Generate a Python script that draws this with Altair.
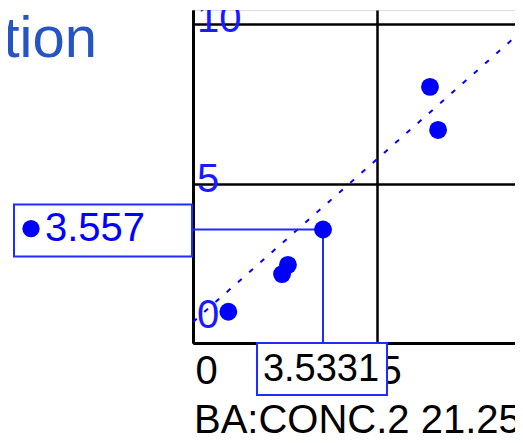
import altair as alt
import pandas as pd

# ---- data ----
pt_x = [0.96, 2.42, 2.58, 3.5331, 6.44, 6.66]
pt_y = [0.98, 2.16, 2.45, 3.557, 8.03, 6.68]
reg_x = [0.0, 8.75]
reg_y = [0.66, 9.59]
sel_x = [3.5331]
sel_y = [3.557]
sel_x_label = ["3.5331"]
sel_y_label = ["3.557"]
x_ticks = [0, 5]
y_ticks = [0, 5, 10]
title_text = ["Calibration"]
x_title = ["BA:CONC.2 21.2535"]

X_DOMAIN = [0, 8.75]
Y_DOMAIN = [0, 10.44]
W, H = 322, 333
FONT = "Liberation Sans, Arial"
FS = 40
BLUE = "#0000ff"
BOXBLUE = "#1f2bff"

pts = pd.DataFrame({"x": pt_x, "y": pt_y})
reg = pd.DataFrame({"x": reg_x, "y": reg_y})
sel = pd.DataFrame({"x": sel_x, "y": sel_y, "lx": sel_x_label, "ly": sel_y_label,
                    "x0": [0.0], "y0": [0.0]})
yt_hi = pd.DataFrame({"v": [v for v in y_ticks if v > 0], "t": [str(v) for v in y_ticks if v > 0]})
yt_lo = pd.DataFrame({"v": [v for v in y_ticks if v == 0], "t": [str(v) for v in y_ticks if v == 0]})
ttl = pd.DataFrame({"t": title_text})
xtl = pd.DataFrame({"t": x_title})

xs = alt.Scale(domain=X_DOMAIN, nice=False, zero=False)
ys = alt.Scale(domain=Y_DOMAIN, nice=False, zero=False)

x_axis = alt.Axis(values=x_ticks, grid=True, gridColor="black", gridWidth=2.5, gridOpacity=1,
                  domain=True, domainColor="black", domainWidth=3, ticks=False,
                  labelAlign="left", labelBaseline="top", labelPadding=8, labelFlush=False,
                  labelOverlap=False, labelFont=FONT, labelFontSize=FS, labelColor="black",
                  labelBound=False, labelOffset=2, title=None)
y_axis = alt.Axis(values=y_ticks, grid=True, gridColor="black", gridWidth=2.5, gridOpacity=1,
                  domain=True, domainColor="black", domainWidth=3, ticks=False, labels=False,
                  title=None)

points = alt.Chart(pts).mark_circle(size=320, color=BLUE, opacity=1).encode(
    x=alt.X("x:Q", scale=xs, axis=x_axis),
    y=alt.Y("y:Q", scale=ys, axis=y_axis),
)

regline = alt.Chart(reg).mark_line(color=BLUE, strokeWidth=2, strokeDash=[5, 10], clip=True).encode(
    x=alt.X("x:Q", scale=xs), y=alt.Y("y:Q", scale=ys)
)

hrule = alt.Chart(sel).mark_rule(color=BOXBLUE, strokeWidth=2).encode(
    x=alt.X("x0:Q", scale=xs), x2="x", y=alt.Y("y:Q", scale=ys)
)
vrule = alt.Chart(sel).mark_rule(color=BOXBLUE, strokeWidth=2).encode(
    x=alt.X("x:Q", scale=xs), y=alt.Y("y:Q", scale=ys), y2="y0"
)

left_box = alt.Chart(sel).mark_rect(fill="white", stroke=BOXBLUE, strokeWidth=2,
                                    yOffset=-25, y2Offset=27).encode(
    x=alt.value(-179), x2=alt.value(-1), y=alt.Y("y:Q", scale=ys), y2="y"
)
left_dot = alt.Chart(sel).mark_circle(size=300, color=BLUE, opacity=1, yOffset=-1).encode(
    x=alt.value(-162), y=alt.Y("y:Q", scale=ys)
)
left_txt = alt.Chart(sel).mark_text(align="left", baseline="middle", dy=-1, font=FONT,
                                    fontSize=FS, color=BLUE).encode(
    x=alt.value(-148), y=alt.Y("y:Q", scale=ys), text="ly:N"
)

bot_box = alt.Chart(sel).mark_rect(fill="white", stroke=BOXBLUE, strokeWidth=2,
                                   xOffset=-66, x2Offset=64).encode(
    x=alt.X("x:Q", scale=xs), x2="x", y=alt.value(333), y2=alt.value(385)
)
bot_txt = alt.Chart(sel).mark_text(align="center", baseline="middle", dx=-2, font=FONT,
                                   fontSize=38, color="black").encode(
    x=alt.X("x:Q", scale=xs), y=alt.value(360), text="lx:N"
)

ylab_hi = alt.Chart(yt_hi).mark_text(align="left", baseline="middle", dx=4, dy=-4, font=FONT,
                                     fontSize=FS, color="#1a1aff", clip=True).encode(
    x=alt.value(0), y=alt.Y("v:Q", scale=ys), text="t:N"
)
ylab_lo = alt.Chart(yt_lo).mark_text(align="left", baseline="middle", dx=4, dy=-27, font=FONT,
                                     fontSize=FS, color="#1a1aff", clip=True).encode(
    x=alt.value(0), y=alt.Y("v:Q", scale=ys), text="t:N"
)

title = alt.Chart(ttl).mark_text(align="right", baseline="alphabetic", font=FONT,
                                 fontSize=58, color="#2554c4").encode(
    x=alt.value(-96), y=alt.value(47), text="t:N"
)
xtitle = alt.Chart(xtl).mark_text(align="left", baseline="alphabetic", font=FONT,
                                  fontSize=FS, color="black").encode(
    x=alt.value(1), y=alt.value(423), text="t:N"
)

chart = alt.layer(
    regline, hrule, vrule, points, ylab_hi, ylab_lo,
    left_box, left_dot, left_txt, bot_box, bot_txt, title, xtitle
).properties(
    width=W, height=H,
    autosize=alt.AutoSizeParams(type="none"),
    padding={"left": 185, "top": 2, "right": 0, "bottom": 92},
).configure_view(stroke=None).configure(background="white")

chart.save("out.html", embed_options={"renderer": "svg", "actions": False})
